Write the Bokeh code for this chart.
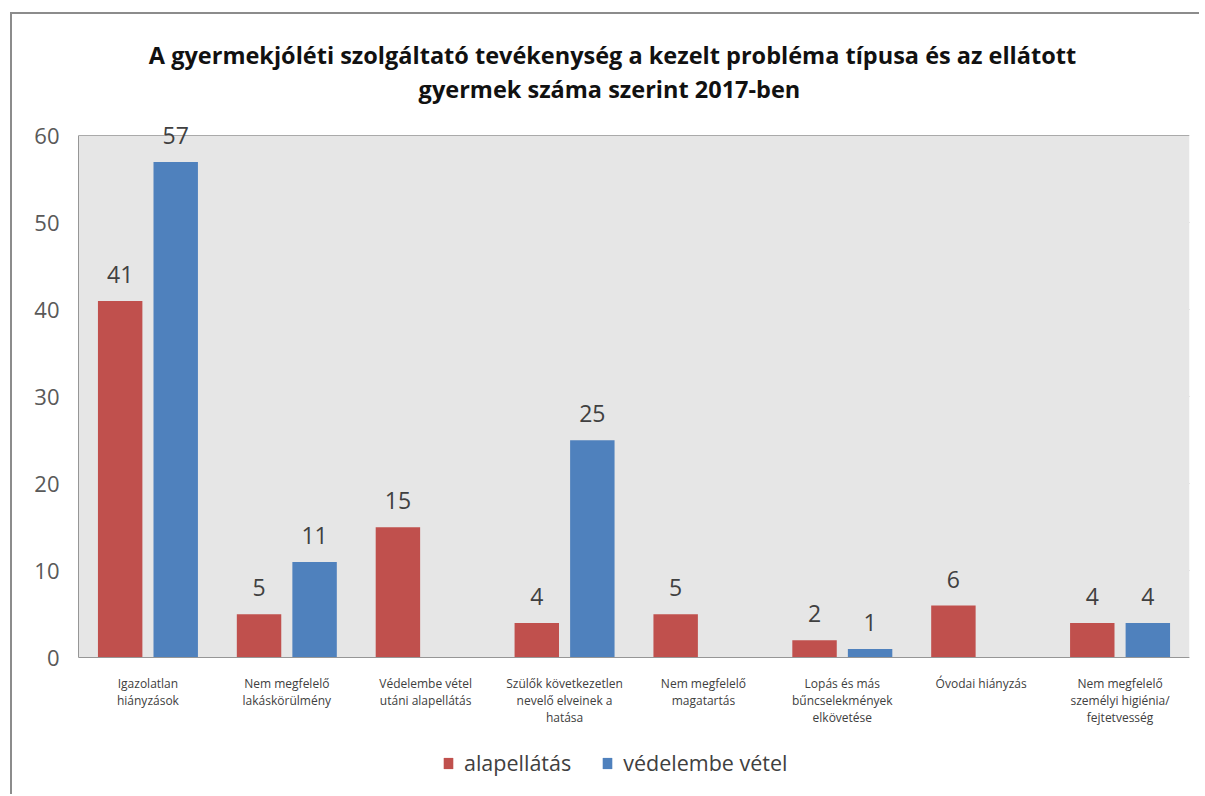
from bokeh.plotting import figure
from bokeh.models import (ColumnDataSource, FactorRange, Range1d, Label, Legend,
                          LegendItem, SingleIntervalTicker, BoxAnnotation)
from bokeh.transform import dodge
from bokeh.core.properties import value
from bokeh.embed import file_html
from bokeh.resources import INLINE

categories = [
    "Igazolatlan\nhiányzások",
    "Nem megfelelő\nlakáskörülmény",
    "Védelembe vétel\nutáni alapellátás",
    "Szülők következetlen\nnevelő elveinek a\nhatása",
    "Nem megfelelő\nmagatartás",
    "Lopás és más\nbűncselekmények\nelkövetése",
    "Óvodai hiányzás",
    "Nem megfelelő\nszemélyi higiénia/\nfejtetvesség",
]
alapellatas = [41, 5, 15, 4, 5, 2, 6, 4]
vedelembe_vetel = [57, 11, None, 25, None, 1, None, 4]
series_names = ["alapellátás", "védelembe vétel"]
title_lines = [
    "A gyermekjóléti szolgáltató tevékenység a kezelt probléma típusa és az ellátott",
    "gyermek száma szerint  2017-ben",
]
y_axis_max = 60
y_ticks_interval = 10

RED = "#C0504D"
BLUE = "#4F81BD"

src_a = ColumnDataSource(dict(cat=categories, val=alapellatas,
                              lab=[str(v) for v in alapellatas]))
vc = [c for c, v in zip(categories, vedelembe_vetel) if v is not None]
vv = [v for v in vedelembe_vetel if v is not None]
src_b = ColumnDataSource(dict(cat=vc, val=vv, lab=[str(v) for v in vv]))

# the frame extends above and below the value axis to hold title and legend
p = figure(frame_width=1111, frame_height=761, output_backend="svg",
           toolbar_location=None,
           x_range=FactorRange(factors=categories), y_range=Range1d(-15.5, 72))
p.min_border_left = 66
p.min_border_right = 10
p.min_border_top = 17
p.min_border_bottom = 2
p.background_fill_color = "white"
p.border_fill_color = "white"
p.outline_line_color = None
p.styles = {"border-left": "2px solid #8c8c8c", "border-top": "2px solid #8c8c8c",
            "margin-left": "10px", "margin-top": "12px"}

p.x_range.range_padding = 0
p.x_range.group_padding = 0
p.x_range.factor_padding = 0

# plot area background (0..60)
p.add_layout(BoxAnnotation(bottom=0, top=y_axis_max, fill_color="#e6e6e6",
                           fill_alpha=1, line_color=None, level="underlay"))

ra = p.vbar(x=dodge("cat", -0.2, range=p.x_range), top="val", width=0.32,
            source=src_a, fill_color=RED, line_color=None)
rb = p.vbar(x=dodge("cat", 0.2, range=p.x_range), top="val", width=0.32,
            source=src_b, fill_color=BLUE, line_color=None)

for src, off in ((src_a, -0.2), (src_b, 0.2)):
    p.text(x=dodge("cat", off, range=p.x_range), y="val", text="lab", source=src,
           text_align="center", text_baseline="bottom", y_offset=-18,
           text_font=value("Open Sans"), text_font_size="23px", text_color="#404040")

# grid
p.xgrid.grid_line_color = None
p.ygrid.grid_line_color = "#969696"
p.ygrid.grid_line_width = 1
p.ygrid.bounds = (0, y_axis_max)
p.ygrid.ticker = SingleIntervalTicker(interval=y_ticks_interval)

# y axis
p.yaxis.ticker = SingleIntervalTicker(interval=y_ticks_interval)
p.yaxis.bounds = (0, y_axis_max)
p.yaxis.axis_line_color = "#969696"
p.yaxis.major_tick_line_color = None
p.yaxis.minor_tick_line_color = None
p.yaxis.major_label_text_font = "Open Sans"
p.yaxis.major_label_text_font_size = "22px"
p.yaxis.major_label_text_color = "#595959"
p.yaxis.major_label_standoff = 13

# x axis, fixed at value 0
p.xaxis.fixed_location = 0
p.xaxis.axis_line_color = "#969696"
p.xaxis.major_tick_line_color = None
p.xaxis.minor_tick_line_color = None
p.xaxis.major_label_text_font = "Open Sans"
p.xaxis.major_label_text_font_size = "12px"
p.xaxis.major_label_text_color = "#404040"
p.xaxis.major_label_text_line_height = 1.0
p.xaxis.major_label_text_align = "center"
p.xaxis.major_label_standoff = 11

# title lines (screen units, relative to the frame)
for txt, yy in ((title_lines[0], 738), (title_lines[1], 704)):
    p.add_layout(Label(x=534, y=yy, x_units="screen", y_units="screen", text=txt,
                       text_align="center", text_baseline="middle",
                       text_font="Open Sans", text_font_style="bold",
                       text_font_size="23.5px", text_color="#111111"))

legend = Legend(items=[LegendItem(label=series_names[0], renderers=[ra]),
                       LegendItem(label=series_names[1], renderers=[rb])],
                orientation="horizontal", location=(364, 15),
                label_text_font="Open Sans", label_text_font_size="21.5px",
                label_text_color="#404040", glyph_width=12, glyph_height=14,
                spacing=30, label_standoff=10, border_line_color=None,
                background_fill_alpha=0, padding=6, margin=0)
p.add_layout(legend, "center")

open("out.html", "w").write(file_html(p, INLINE))
